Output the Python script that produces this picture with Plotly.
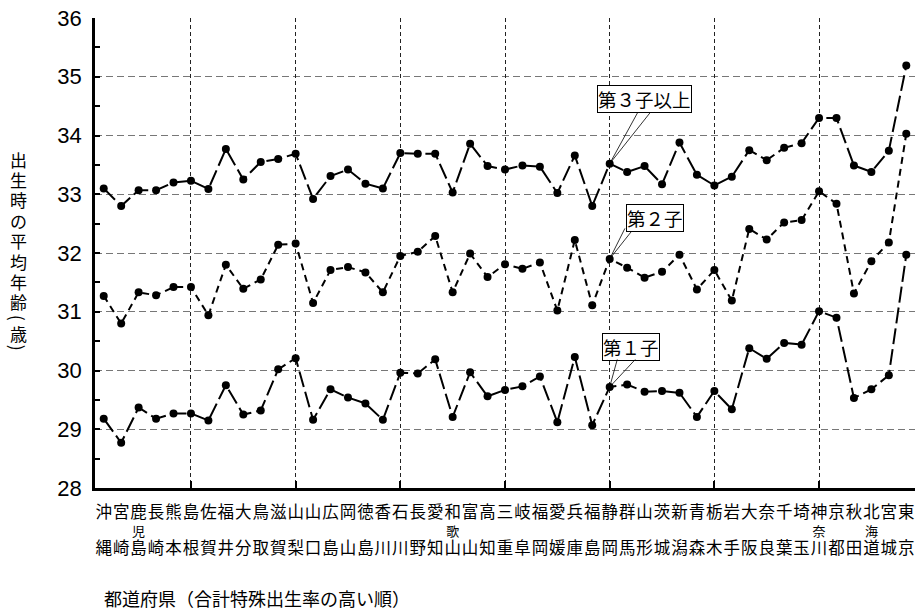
import plotly.graph_objects as go

prefectures = ["沖縄", "宮崎", "鹿児島", "長崎", "熊本", "島根", "佐賀", "福井", "大分", "鳥取",
               "滋賀", "山梨", "山口", "広島", "岡山", "徳島", "香川", "石川", "長野", "愛知",
               "和歌山", "富山", "高知", "三重", "岐阜", "福岡", "愛媛", "兵庫", "福島", "静岡",
               "群馬", "山形", "茨城", "新潟", "青森", "栃木", "岩手", "大阪", "奈良", "千葉",
               "埼玉", "神奈川", "京都", "秋田", "北海道", "宮城", "東京"]

first_child = [29.18, 28.77, 29.37, 29.18, 29.27, 29.27, 29.15, 29.75, 29.25, 29.32,
               30.02, 30.21, 29.16, 29.68, 29.54, 29.44, 29.16, 29.96, 29.95, 30.19,
               29.21, 29.97, 29.56, 29.67, 29.73, 29.90, 29.12, 30.23, 29.07, 29.72,
               29.76, 29.64, 29.65, 29.62, 29.21, 29.65, 29.34, 30.38, 30.20, 30.47,
               30.44, 31.01, 30.90, 29.53, 29.68, 29.92, 31.97]

second_child = [31.27, 30.80, 31.33, 31.28, 31.42, 31.42, 30.94, 31.80, 31.39, 31.55,
                32.14, 32.16, 31.15, 31.71, 31.76, 31.67, 31.33, 31.95, 32.02, 32.29,
                31.33, 31.99, 31.59, 31.81, 31.73, 31.84, 31.02, 32.22, 31.11, 31.90,
                31.75, 31.58, 31.68, 31.97, 31.38, 31.71, 31.19, 32.41, 32.23, 32.52,
                32.56, 33.05, 32.84, 31.31, 31.86, 32.18, 34.03]

third_child = [33.10, 32.80, 33.07, 33.07, 33.20, 33.23, 33.09, 33.77, 33.25, 33.55,
               33.60, 33.69, 32.92, 33.31, 33.42, 33.18, 33.10, 33.70, 33.69, 33.69,
               33.03, 33.86, 33.48, 33.42, 33.49, 33.47, 33.02, 33.66, 32.80, 33.52,
               33.38, 33.48, 33.17, 33.88, 33.33, 33.15, 33.30, 33.75, 33.58, 33.79,
               33.87, 34.30, 34.30, 33.49, 33.38, 33.74, 35.19]

series_names = ["第１子", "第２子", "第３子以上"]
y_ticks = [28, 29, 30, 31, 32, 33, 34, 35, 36]
y_title = "出生時の平均年齢"
y_unit = "歳"
x_title = "都道府県（合計特殊出生率の高い順）"

JP = "Noto Sans CJK JP"
BIG = '<span style="font-size:16.5px">{}</span>'
SMALL = '<span style="font-size:13px">{}</span>'


def vlabel(name):
    if len(name) == 3:
        return "<br>".join([BIG.format(name[0]), SMALL.format(name[1]), BIG.format(name[2])])
    return "<br>".join([BIG.format(name[0]), "\u3000", BIG.format(name[1])])


idx = list(range(len(prefectures)))
grid_idx = list(range(5, len(prefectures), 6))
ticktext = [vlabel(p) for p in prefectures]

fig = go.Figure()
styles = [("16px,5px", first_child), ("7px,5px", second_child), ("16px,5px", third_child)]
for name, (dash, vals) in zip(series_names, styles):
    fig.add_trace(go.Scatter(
        x=idx, y=vals, mode="lines+markers", name=name,
        line=dict(color="black", width=2, dash=dash),
        marker=dict(color="black", size=8),
        showlegend=False,
    ))

# callout labels attached to 静岡 (index 29)
k = prefectures.index("静岡")
callouts = [
    ("第３子以上", third_child[k], 35, 65, [(29, -53), (42, -53)]),
    ("第２子", second_child[k], 45, 41, [(16, -32), (23, -29)]),
    ("第１子", first_child[k], 21, 40, [(8, -29), (27, -29)]),
]
for text, yv, xs, ys, lines in callouts:
    fig.add_annotation(x=k, y=yv, xref="x", yref="y", text=text, showarrow=False,
                       xshift=xs, yshift=ys, bgcolor="white", bordercolor="black",
                       borderwidth=1, borderpad=0,
                       font=dict(family=JP, size=18.5, color="black"))
    for ax, ay in lines:
        fig.add_annotation(x=k, y=yv, xref="x", yref="y", text="", showarrow=True,
                           arrowhead=0, arrowwidth=0.8, arrowcolor="black",
                           ax=ax, ay=ay, axref="pixel", ayref="pixel")

# y-axis title, written vertically one character at a time
TOP, BOT, H = 18, 488, 470
XT = (18.3 - 95) / 820
for i, ch in enumerate(y_title):
    ypx = 159 + 20.4 * i
    fig.add_annotation(xref="paper", yref="paper", x=XT, y=(BOT - ypx) / H,
                       xanchor="center", yanchor="middle", text=ch, showarrow=False,
                       font=dict(family=JP, size=17, color="black"))
fig.add_annotation(xref="paper", yref="paper", x=XT, y=(BOT - 333) / H, xanchor="center", yanchor="middle",
                   text=y_unit, showarrow=False, font=dict(family=JP, size=17, color="black"))
for ch, ypx in [("(", 318), (")", 348)]:
    fig.add_annotation(xref="paper", yref="paper", x=XT, y=(BOT - ypx) / H, xanchor="center", yanchor="middle",
                       text=ch, textangle=90, showarrow=False,
                       font=dict(family=JP, size=18, color="black"))
fig.add_annotation(xref="paper", yref="paper", x=0.0085, y=-0.235, xanchor="left", yanchor="middle",
                   text=x_title, showarrow=False,
                   font=dict(family=JP, size=18, color="black"))

fig.update_layout(
    width=918, height=613,
    margin=dict(l=95, r=3, t=TOP, b=613 - BOT),
    plot_bgcolor="white", paper_bgcolor="white",
    font=dict(family=JP, color="black"),
    xaxis=dict(range=[-0.5, 46.5], tickmode="array", tickvals=idx, ticktext=ticktext,
               tickfont=dict(family=JP, size=14, color="black"), tickangle=0,
               showgrid=False, zeroline=False, ticks="",
               showline=True, linecolor="black", linewidth=2.5,
               ticklabelstandoff=10),
    xaxis2=dict(overlaying="x", anchor="y", side="bottom", range=[-0.5, 46.5],
                tickmode="array", tickvals=grid_idx, showticklabels=False,
                ticks="inside", ticklen=7, tickwidth=1.5, tickcolor="black",
                showgrid=True, gridcolor="#222", griddash="4px,3px", gridwidth=1,
                zeroline=False, showline=False),
    yaxis=dict(range=[28, 36], tickmode="array", tickvals=y_ticks,
               tickfont=dict(family="Liberation Sans", size=22, color="black"),
               ticks="inside", ticklen=5, tickwidth=1.5, tickcolor="black",
               minor=dict(dtick=0.5, ticks="inside", ticklen=5, tickwidth=1.5, tickcolor="black", showgrid=False),
               showgrid=True, gridcolor="#777", griddash="7px,4px", gridwidth=1,
               zeroline=False, showline=True, linecolor="black", linewidth=2.5,
               ticklabelstandoff=6),
)
fig.add_trace(go.Scatter(x=[], y=[], xaxis="x2", yaxis="y", showlegend=False, hoverinfo="skip"))

fig.write_html("out.html", config={"displayModeBar": False},
               post_script="document.body.style.margin='0';document.body.style.overflow='hidden';")
